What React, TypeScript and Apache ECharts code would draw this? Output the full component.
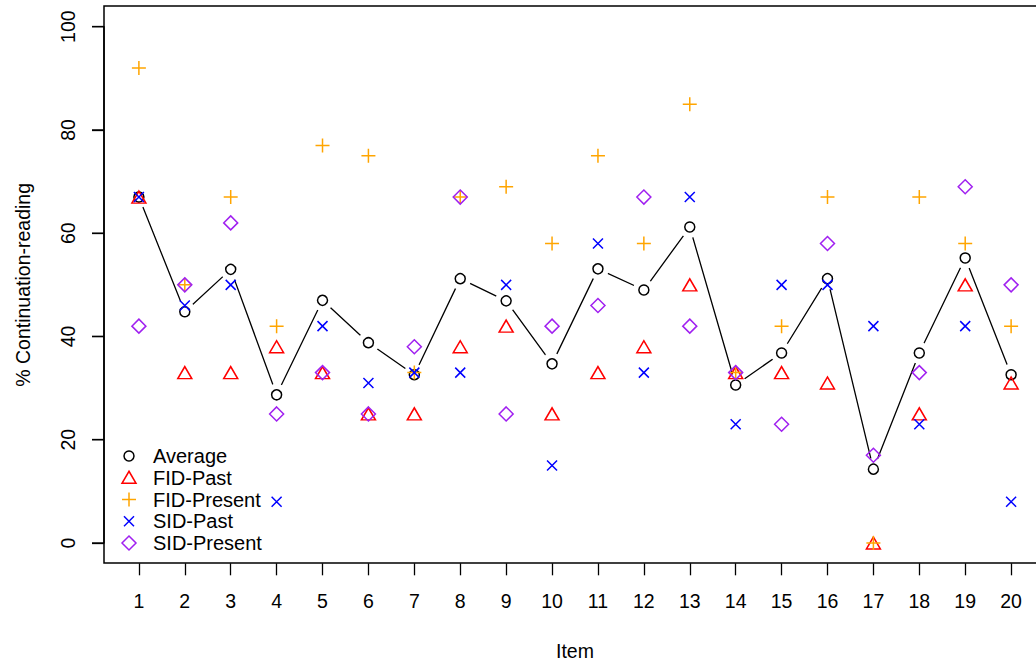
import React, { useEffect, useRef } from "react";
import * as echarts from "echarts";

const ITEMS = [1, 2, 3, 4, 5, 6, 7, 8, 9, 10, 11, 12, 13, 14, 15, 16, 17, 18, 19, 20];
const AVERAGE = [67, 44.8, 53, 28.7, 47, 38.8, 32.6, 51.2, 46.9, 34.7, 53.1, 49, 61.2, 30.6, 36.8, 51.2, 14.3, 36.8, 55.2, 32.6];
const FID_PAST = [67, 33, 33, 38, 33, 25, 25, 38, 42, 25, 33, 38, 50, 33, 33, 31, 0, 25, 50, 31];
const FID_PRESENT = [92, 50, 67, 42, 77, 75, 33, 67, 69, 58, 75, 58, 85, 33, 42, 67, 0, 67, 58, 42];
const SID_PAST = [67, 46, 50, 8, 42, 31, 33, 33, 50, 15, 58, 33, 67, 23, 50, 50, 42, 23, 42, 8];
const SID_PRESENT = [42, 50, 62, 25, 33, 25, 38, 67, 25, 42, 46, 67, 42, 33, 23, 58, 17, 33, 69, 50];
const Y_TICKS = [0, 20, 40, 60, 80, 100];
const Y_MIN = 0;
const Y_MAX = 100;
const Y_STEP = 20;
const X_MIN = 0.24;
const X_MAX = 20.76;
const LEGEND_NAMES = ["Average", "FID-Past", "FID-Present", "SID-Past", "SID-Present"];

const FONT = "'Liberation Sans', Arial, Helvetica, sans-serif";
const C_AVG = "#000000";
const C_FP = "#ff0000";
const C_FPR = "#ffa500";
const C_SP = "#0000ff";
const C_SPR = "#a020f0";

const TRI = "path://M7,0 L14,12 L0,12 Z";
const PLUS = "path://M7,0 L7,14 M0,7 L14,7";
const CROSS = "path://M0,0 L10,10 M0,10 L10,0";
const DIAM = "path://M7,0 L14,7 L7,14 L0,7 Z";

const pairs = (ys: number[]) => ITEMS.map((x, i) => [x, ys[i]]);

function legendGraphics() {
  const x0 = 129;
  const y0 = 456;
  const step = 21.75;
  const out: any[] = [];
  const sw = 1.5;
  LEGEND_NAMES.forEach((name, i) => {
    const y = y0 + i * step;
    if (i === 0) {
      out.push({ type: "circle", shape: { cx: x0, cy: y, r: 5 }, style: { fill: "none", stroke: C_AVG, lineWidth: sw } });
    } else if (i === 1) {
      out.push({ type: "polygon", shape: { points: [[x0, y - 6.5], [x0 + 7, y + 5.5], [x0 - 7, y + 5.5]] }, style: { fill: "none", stroke: C_FP, lineWidth: sw } });
    } else if (i === 2) {
      out.push({ type: "line", shape: { x1: x0 - 7, y1: y, x2: x0 + 7, y2: y }, style: { stroke: C_FPR, lineWidth: sw } });
      out.push({ type: "line", shape: { x1: x0, y1: y - 7, x2: x0, y2: y + 7 }, style: { stroke: C_FPR, lineWidth: sw } });
    } else if (i === 3) {
      out.push({ type: "line", shape: { x1: x0 - 5, y1: y - 5, x2: x0 + 5, y2: y + 5 }, style: { stroke: C_SP, lineWidth: sw } });
      out.push({ type: "line", shape: { x1: x0 - 5, y1: y + 5, x2: x0 + 5, y2: y - 5 }, style: { stroke: C_SP, lineWidth: sw } });
    } else {
      out.push({ type: "polygon", shape: { points: [[x0, y - 7], [x0 + 7, y], [x0, y + 7], [x0 - 7, y]] }, style: { fill: "none", stroke: C_SPR, lineWidth: sw } });
    }
    out.push({
      type: "text",
      x: 153,
      y,
      style: { text: name, fill: "#000", font: `20px ${FONT}`, textVerticalAlign: "middle", textAlign: "left" },
    });
  });
  // plot box (R's box()), extending 4% beyond the data range
  out.push({
    type: "rect",
    shape: { x: 104, y: 6, width: 942, height: 557 },
    style: { fill: "none", stroke: "#000", lineWidth: 1.5 },
  });
  return out;
}

function symSeries(name: string, data: number[], symbol: string, size: any, color: string, z: number) {
  return {
    name,
    type: "scatter",
    data: pairs(data),
    symbol,
    symbolSize: size,
    silent: true,
    z,
    itemStyle: { color: "none", borderColor: color, borderWidth: 1.5, opacity: 1 },
    emphasis: { disabled: true },
  };
}

export default function App() {
  const ref = useRef<HTMLDivElement>(null);
  useEffect(() => {
    if (!ref.current) return;
    const chart = echarts.init(ref.current, undefined, { renderer: "svg" });
    chart.setOption({
      animation: false,
      grid: { left: 104, top: 26.7, width: 942, height: 516.3, outerBoundsMode: "none" },
      xAxis: {
        type: "value",
        offset: 20.3,
        min: X_MIN,
        max: X_MAX,
        name: "Item",
        nameLocation: "middle",
        nameGap: 78,
        nameTextStyle: { fontSize: 19.5, color: "#000", fontFamily: FONT },
        axisLine: { show: false, onZero: false },
        splitLine: { show: false },
        axisTick: { show: true, length: 12, customValues: ITEMS, lineStyle: { color: "#000", width: 1.3 } },
        axisLabel: { customValues: ITEMS, fontSize: 19.5, color: "#000", margin: 28, fontFamily: FONT },
      },
      yAxis: {
        type: "value",
        min: Y_MIN,
        max: Y_MAX,
        interval: Y_STEP,
        name: "% Continuation-reading",
        nameLocation: "middle",
        nameGap: 71,
        nameTextStyle: { fontSize: 19.5, color: "#000", fontFamily: FONT },
        axisLine: { show: true, onZero: false, lineStyle: { color: "#000", width: 1.5 } },
        splitLine: { show: false },
        axisTick: { show: true, length: 12, lineStyle: { color: "#000", width: 1.3 } },
        axisLabel: { rotate: 90, fontSize: 19.5, color: "#000", margin: 26, fontFamily: FONT },
      },
      series: [
        {
          name: "AverageLine",
          type: "line",
          data: pairs(AVERAGE),
          showSymbol: false,
          silent: true,
          z: 1,
          lineStyle: { color: "#000", width: 1.3 },
          emphasis: { disabled: true },
        },
        {
          name: "Mask",
          type: "scatter",
          data: pairs(AVERAGE),
          symbol: "circle",
          symbolSize: 22,
          silent: true,
          z: 2,
          itemStyle: { color: "#ffffff", opacity: 1 },
          emphasis: { disabled: true },
        },
        {
          name: "Average",
          type: "scatter",
          data: pairs(AVERAGE),
          symbol: "circle",
          symbolSize: 10,
          silent: true,
          z: 3,
          itemStyle: { color: "none", borderColor: C_AVG, borderWidth: 1.5, opacity: 1 },
          emphasis: { disabled: true },
        },
        symSeries("FID-Past", FID_PAST, TRI, [14, 12], C_FP, 4),
        symSeries("FID-Present", FID_PRESENT, PLUS, 14, C_FPR, 5),
        symSeries("SID-Past", SID_PAST, CROSS, 10, C_SP, 6),
        symSeries("SID-Present", SID_PRESENT, DIAM, 14, C_SPR, 7),
      ],
    });
    // y-axis ticks placed through the chart's own scale
    const tickLines = Y_TICKS.map((v) => {
      const p = chart.convertToPixel({ xAxisIndex: 0, yAxisIndex: 0 }, [X_MIN, v]) as number[];
      return {
        type: "line",
        z: 100,
        shape: { x1: 104 - 12, y1: p[1], x2: 104, y2: p[1] },
        style: { stroke: "#000", lineWidth: 1.4 },
      };
    });
    chart.setOption({ graphic: [...legendGraphics(), ...tickLines] });
    return () => chart.dispose();
  }, []);
  return (
    <div style={{ position: "fixed", left: 0, top: 0, width: 1036, height: 661, overflow: "hidden", background: "#fff" }}>
      <div ref={ref} style={{ width: 1060, height: 661 }} />
    </div>
  );
}
